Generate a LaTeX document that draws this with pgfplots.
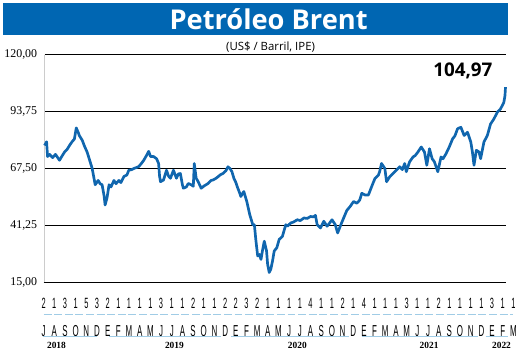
\documentclass[border=0pt]{standalone}
\usepackage{pgfplots}
\pgfplotsset{compat=1.18}
\usepackage{fontspec}
\setmainfont{Liberation Serif}
\newfontfamily\titlefont{Open Sans}
\newfontfamily\condfont[FakeStretch=0.5]{Liberation Sans}
\definecolor{banner}{RGB}{0,102,178}
\definecolor{oil}{RGB}{16,102,174}
\definecolor{lightb}{RGB}{160,204,230}

\pgfplotstableread{
m v
0.09 78.1
0.28 79.8
0.37 73
0.56 74
0.84 72.5
1.11 74
1.49 71.3
1.76 73.5
1.95 75
2.23 76.5
2.41 78
2.69 80
2.88 81
3.06 86.2
3.25 84
3.34 82.7
3.62 80.5
3.81 78
4.08 75
4.27 72
4.55 67.5
4.83 60
5.11 62
5.29 60.5
5.48 60
5.66 55
5.76 50.7
5.94 54
6.13 60
6.31 59
6.59 62
6.78 60.5
7.05 62
7.24 61
7.52 63.8
7.80 64.5
7.98 66.7
8.26 67
8.45 67.5
8.73 68
8.91 68.4
9.19 70
9.38 71.3
9.65 73.6
9.84 75.4
10.02 73
10.30 73
10.58 72
10.77 69.8
10.86 64
10.95 61.4
11.23 62.2
11.51 66.7
11.70 64
11.88 63
12.16 66.7
12.44 63
12.62 65
12.81 65.2
13.00 60
13.09 58.4
13.37 59
13.55 60.6
13.83 60
14.02 59.3
14.11 69.8
14.29 63
14.48 61.4
14.76 58.4
15.04 59.5
15.41 60.6
15.69 62
15.87 62.2
16.15 63
16.34 63.7
16.52 64.5
16.80 65.2
17.08 66.5
17.27 68.3
17.45 67.5
17.64 66
17.82 63
18.01 61
18.19 58.4
18.38 56
18.47 54.6
18.75 56.9
19.03 52.3
19.31 46.2
19.59 41.6
19.74 41.6
19.89 34
20.05 27.2
20.21 27.9
20.36 25.6
20.51 30
20.67 34
20.88 29.5
20.98 23.4
21.13 19.6
21.28 21.1
21.44 24.9
21.60 29.5
21.84 31
22.06 34.8
22.37 36.3
22.68 41.6
22.83 40.9
23.14 42.4
23.39 42.8
23.76 43.9
24.04 43.5
24.38 44.7
24.69 44.5
25.00 45.4
25.25 45.2
25.46 45.9
25.62 41.6
25.93 40.1
26.24 43.2
26.55 40.9
26.73 42
27.01 43.9
27.32 41.6
27.54 37.8
27.78 40.9
28.10 44.7
28.40 48.2
28.71 50
29.03 52.3
29.33 51.5
29.49 52.3
29.61 53
29.80 56.1
30.10 55.3
30.42 55.3
30.72 59.1
31.03 62.9
31.35 64.4
31.47 66
31.65 69.8
31.96 67.5
32.12 61.4
32.42 63.7
32.89 66
33.35 68.3
33.60 67
33.82 69.8
33.97 66
34.28 70.6
34.60 72.8
34.81 73.5
35.06 75.1
35.37 77.4
35.67 75.1
35.89 69
36.14 76.6
36.39 72
36.60 70.6
36.92 66
37.22 72.8
37.41 72
37.69 74.3
37.99 77.4
38.31 81.2
38.52 82.5
38.77 85.8
39.08 86.5
39.39 82.7
39.70 84.2
40.01 79.7
40.16 75.1
40.31 69
40.53 75.9
40.78 75.1
40.93 72
41.24 79.7
41.56 82.7
41.86 88
42.17 90.3
42.49 93.4
42.79 94.9
43.10 97.9
43.21 101
43.26 104.97
}\brent

\begin{document}
\begin{tikzpicture}[x=1pt,y=1pt]
\path (0,0) rectangle (520,359);
\fill[banner] (3,324) rectangle (513,356);
\node[text=white,font=\titlefont\bfseries\fontsize{27.5}{30}\selectfont] at (271,339.5) {Petróleo Brent};
\node[font=\titlefont\fontsize{11.5}{13}\selectfont] at (273,312) {(US\$ / Barril, IPE)};
\begin{axis}[at={(44pt,74pt)}, anchor=south west, scale only axis, width=474pt, height=230pt,
  xmin=0, xmax=44, ymin=15, ymax=120, clip=false,
  axis line style={draw=none}, major tick length=0pt,
  ytick={15,41.25,67.5,93.75,120},
  yticklabel style={/pgf/number format/fixed, /pgf/number format/fixed zerofill, /pgf/number format/precision=2, /pgf/number format/use comma, /pgf/number format/1000 sep={}, /pgf/number format/assume math mode=true},
  yticklabel style={font=\fontsize{12}{14}\selectfont, anchor=east, xshift=-3pt},
  xtick={0,...,44},
  xticklabels={2,1,3,1,5,3,2,1,1,1,1,3,1,1,2,1,1,2,2,3,2,1,1,1,1,4,1,1,2,1,4,1,1,1,3,1,1,2,1,1,1,1,3,1,1},
  xticklabel style={font=\condfont\fontsize{15}{15}\selectfont, anchor=center, yshift=-21pt},
  extra x ticks={0,...,44},
  extra x tick labels={J,A,S,O,N,D,E,F,M,A,M,J,J,A,S,O,N,D,E,F,M,A,M,J,J,A,S,O,N,D,E,F,M,A,M,J,J,A,S,O,N,D,E,F,M},
  extra x tick style={xticklabel style={font=\condfont\fontsize{16}{16}\selectfont, yshift=-28pt}},
]
\draw[black, line width=0.8pt] (axis cs:0.09,120) -- (axis cs:43.26,120);
\draw[black, line width=0.8pt] (axis cs:0.09,93.75) -- (axis cs:43.26,93.75);
\draw[black, line width=0.8pt] (axis cs:0.09,67.5) -- (axis cs:43.26,67.5);
\draw[black, line width=0.8pt] (axis cs:0.09,41.25) -- (axis cs:43.26,41.25);
\draw[black, line width=1.4pt] (axis cs:0,15) -- (axis cs:43.26,15);
\draw[black!20, line width=1.5pt] (axis cs:0.09,15) -- (axis cs:0.09,120);
\addplot[oil, line width=2.7pt, line join=round] table[x=m, y=v] {\brent};
\end{axis}
\node[font=\titlefont\bfseries\fontsize{19}{22}\selectfont] at (467,287) {104,97};
\draw[lightb, line width=0.8pt, dash pattern=on 8pt off 2.7pt] (44,42) -- (518,42);
\draw[lightb, line width=1pt] (43,19) -- (98,19);
\draw[lightb, line width=1pt] (110,19) -- (223,19);
\draw[lightb, line width=1pt] (233,19) -- (352,19);
\draw[lightb, line width=1pt] (365,19) -- (482,19);
\draw[lightb, line width=1pt] (490,19) -- (513,19);
\begin{scope}[every node/.style={font=\bfseries\fontsize{9.5}{11}\selectfont}]
\node at (57,10) {2018};
\node at (176,10) {2019};
\node at (300,10) {2020};
\node at (433,10) {2021};
\node at (506,10) {2022};
\end{scope}
\end{tikzpicture}
\end{document}
